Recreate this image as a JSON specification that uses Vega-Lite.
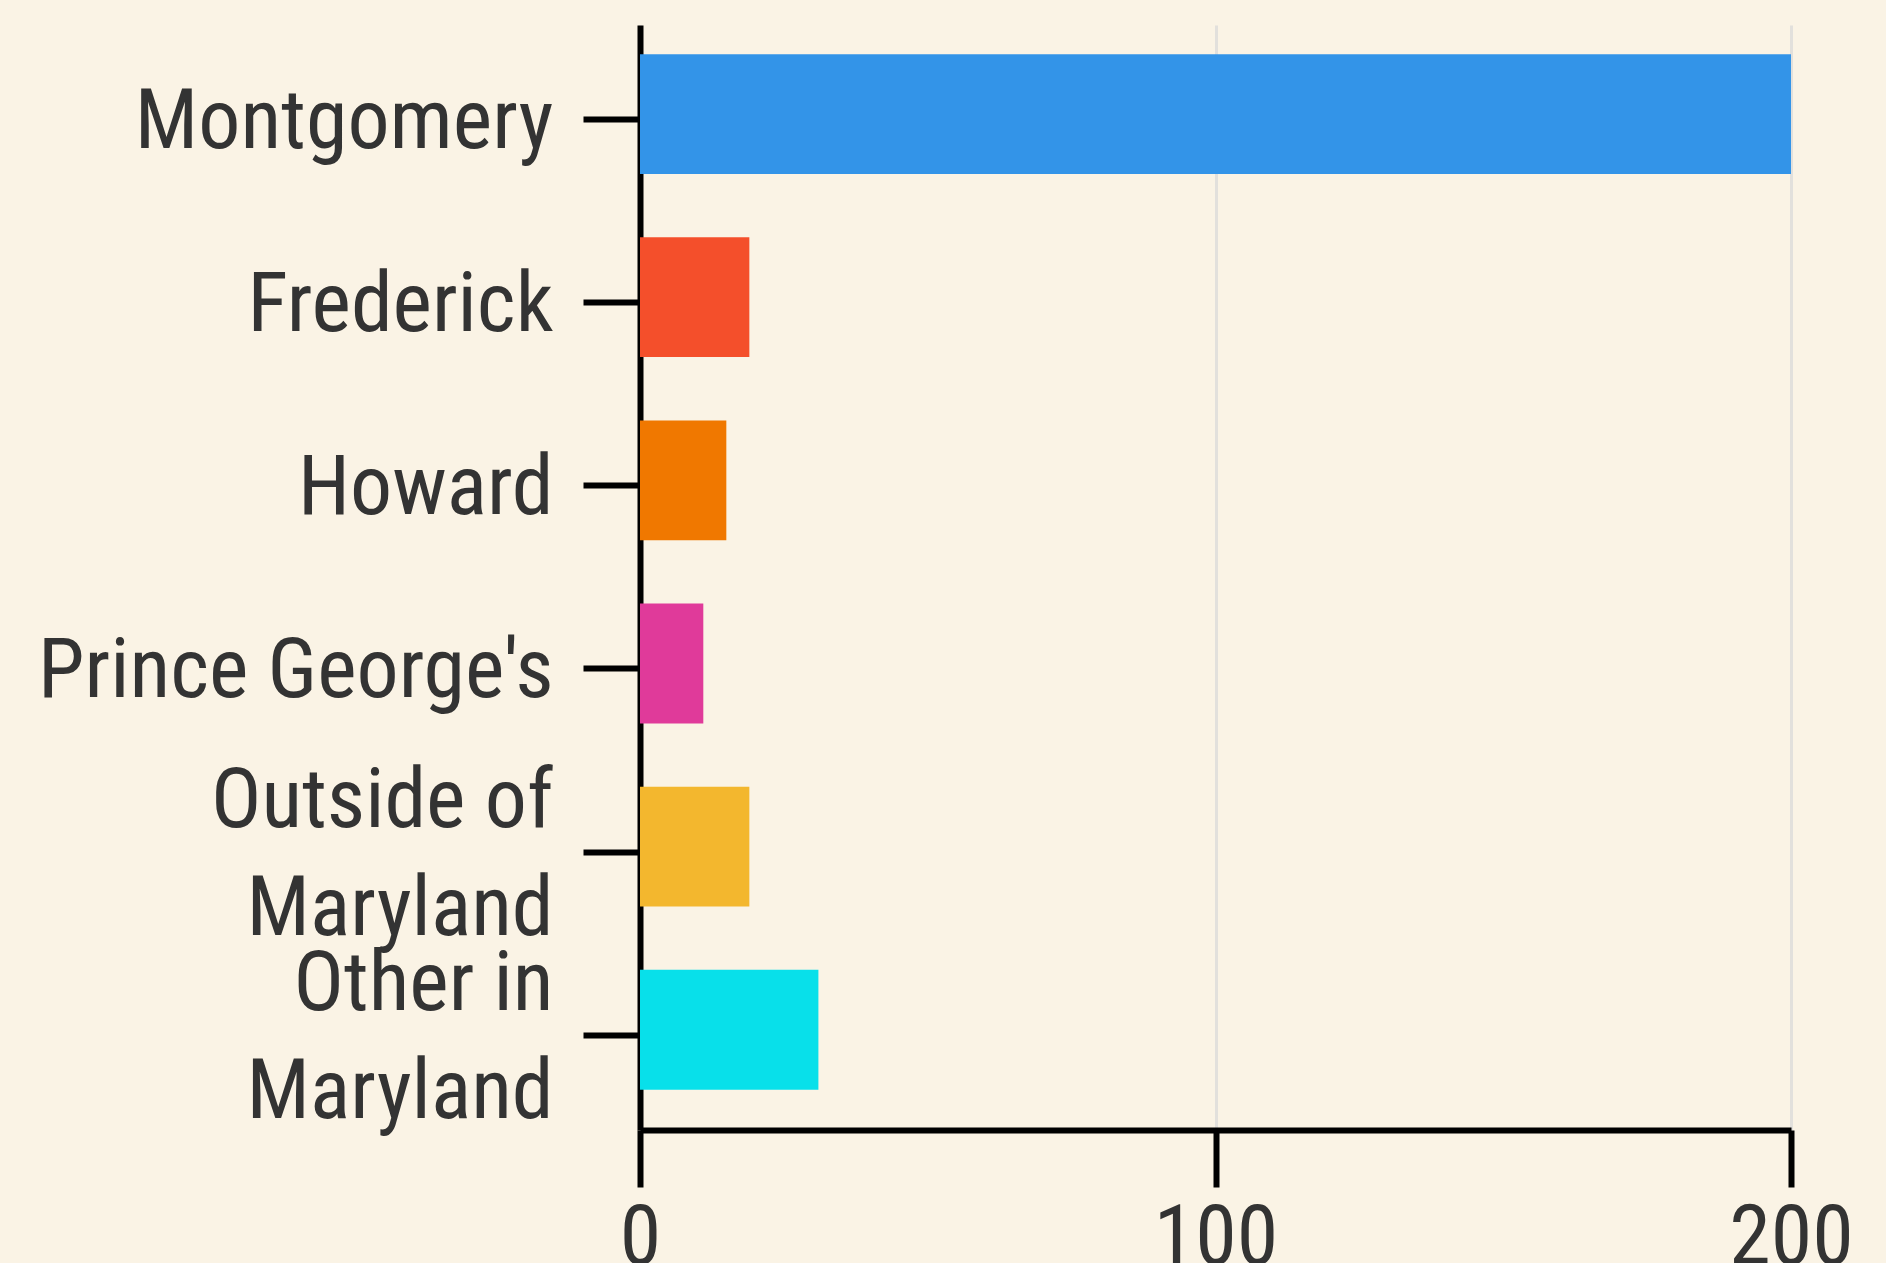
{
  "$schema": "https://vega.github.io/schema/vega-lite/v6.json",
  "width": 1151,
  "height": 1105,
  "autosize": {"type": "none"},
  "padding": {"left": 640, "top": 25, "right": 95, "bottom": 133},
  "background": "#faf3e5",
  "config": {
    "view": {"stroke": null},
    "font": "Roboto Condensed, Liberation Sans Narrow, DejaVu Sans Condensed, sans-serif"
  },
  "data": {
    "values": [
      {"region": "Montgomery", "count": 200},
      {"region": "Frederick", "count": 19},
      {"region": "Howard", "count": 15},
      {"region": "Prince George's", "count": 11},
      {"region": "Outside of Maryland", "count": 19},
      {"region": "Other in Maryland", "count": 31}
    ]
  },
  "mark": {"type": "bar"},
  "encoding": {
    "y": {
      "field": "region",
      "type": "nominal",
      "sort": null,
      "scale": {"paddingInner": 0.346, "paddingOuter": 0.19, "align": 0.42},
      "axis": {
        "title": null,
        "grid": false,
        "domainColor": "#000000",
        "domainWidth": 6,
        "tickColor": "#000000",
        "tickWidth": 6,
        "tickSize": 57,
        "tickOffset": 5,
        "labelFontSize": 84,
        "labelColor": "#333333",
        "labelPadding": 30,
        "labelLimit": 1000,
        "labelLineHeight": 108,
        "labelOffset": {"condition": {"test": "indexof(datum.value, 'Maryland') >= 0", "value": -50}, "value": 3},
        "labelExpr": "datum.value == 'Outside of Maryland' ? ['Outside of', 'Maryland'] : datum.value == 'Other in Maryland' ? ['Other in', 'Maryland'] : datum.value"
      }
    },
    "x": {
      "field": "count",
      "type": "quantitative",
      "scale": {"domain": [0, 200], "nice": false},
      "axis": {
        "title": null,
        "values": [0, 100, 200],
        "grid": true,
        "gridColor": "#e2e0dc",
        "gridWidth": 3,
        "domainColor": "#000000",
        "domainWidth": 6,
        "tickColor": "#000000",
        "tickWidth": 6,
        "tickSize": 57,
        "labelFontSize": 84,
        "labelColor": "#333333",
        "labelPadding": 10,
        "labelFlush": false
      }
    },
    "color": {
      "field": "region",
      "type": "nominal",
      "legend": null,
      "scale": {
        "domain": ["Montgomery", "Frederick", "Howard", "Prince George's", "Outside of Maryland", "Other in Maryland"],
        "range": ["#3394e8", "#f44f2b", "#f07800", "#e03a9a", "#f3b72e", "#08e0ea"]
      }
    }
  }
}
